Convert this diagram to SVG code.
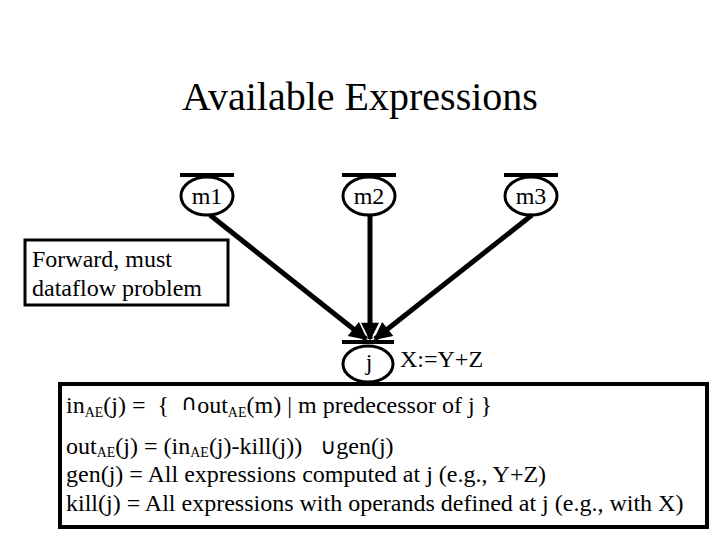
<svg xmlns="http://www.w3.org/2000/svg" width="720" height="540" viewBox="0 0 720 540">
<style>
text{font-family:"Liberation Serif","DejaVu Serif",serif;fill:#000;white-space:pre}
.t{font-size:24px}
.sub{font-size:14px}
.op{font-family:"DejaVu Sans",sans-serif;font-size:22px}
.node ellipse{fill:none;stroke:#000;stroke-width:3}
.node line{stroke:#000;stroke-width:4}
.edge{stroke:#000;stroke-width:5;fill:none;marker-end:url(#ah)}
.box{fill:none;stroke:#000;stroke-width:3}
</style>
<defs>
<marker id="ah" viewBox="0 0 10 10" refX="9" refY="5" markerWidth="4" markerHeight="3.6" orient="auto" markerUnits="strokeWidth">
<path d="M0,0 L10,5 L0,10 z" fill="#000"/>
</marker>
</defs>
<rect width="720" height="540" fill="#fff"/>
<text x="360" y="110" font-size="40" text-anchor="middle">Available Expressions</text>
<g id="connectors">
<line class="edge" x1="210" y1="215" x2="366" y2="339"/>
<line class="edge" x1="370" y1="215" x2="370" y2="339"/>
<line class="edge" x1="532" y1="215" x2="375" y2="339"/>
</g>
<g id="m1" class="node">
<line x1="180" y1="175" x2="234" y2="175"/>
<ellipse cx="207" cy="196" rx="26" ry="19"/>
<text class="t" x="207" y="204" text-anchor="middle">m1</text>
</g>
<g id="m2" class="node">
<line x1="342" y1="175" x2="396" y2="175"/>
<ellipse cx="369" cy="196" rx="26" ry="19"/>
<text class="t" x="369" y="204" text-anchor="middle">m2</text>
</g>
<g id="m3" class="node">
<line x1="504" y1="175" x2="558" y2="175"/>
<ellipse cx="531" cy="196" rx="26" ry="19"/>
<text class="t" x="531" y="204" text-anchor="middle">m3</text>
</g>
<g id="note">
<rect class="box" x="25" y="240" width="203" height="65"/>
<text class="t" x="32" y="267">Forward, must</text>
<text class="t" x="32" y="296">dataflow problem</text>
</g>
<g id="j" class="node">
<line x1="342" y1="342" x2="394" y2="342"/>
<ellipse cx="368" cy="364" rx="25" ry="18"/>
<text class="t" x="369" y="370" text-anchor="middle">j</text>
<text class="t" x="400" y="367">X:=Y+Z</text>
</g>
<g id="equations">
<rect x="60" y="384" width="647" height="143" fill="#fff" stroke="#000" stroke-width="4"/>
<text class="t" x="66" y="413">in<tspan class="sub" dy="4">AE</tspan><tspan dy="-4">(j) =  {  </tspan><tspan class="op" dy="-3">∩</tspan><tspan dy="3">out</tspan><tspan class="sub" dy="4">AE</tspan><tspan dy="-4">(m) | m predecessor of j }</tspan></text>
<text class="t" x="66" y="454">out<tspan class="sub" dy="3">AE</tspan><tspan dy="-3">(j) = (in</tspan><tspan class="sub" dy="3">AE</tspan><tspan dy="-3">(j)-kill(j))   </tspan><tspan class="op">∪</tspan>gen(j)</text>
<text class="t" x="66" y="482">gen(j) = All expressions computed at j (e.g., Y+Z)</text>
<text class="t" x="66" y="511">kill(j) = All expressions with operands defined at j (e.g., with X)</text>
</g>
</svg>
